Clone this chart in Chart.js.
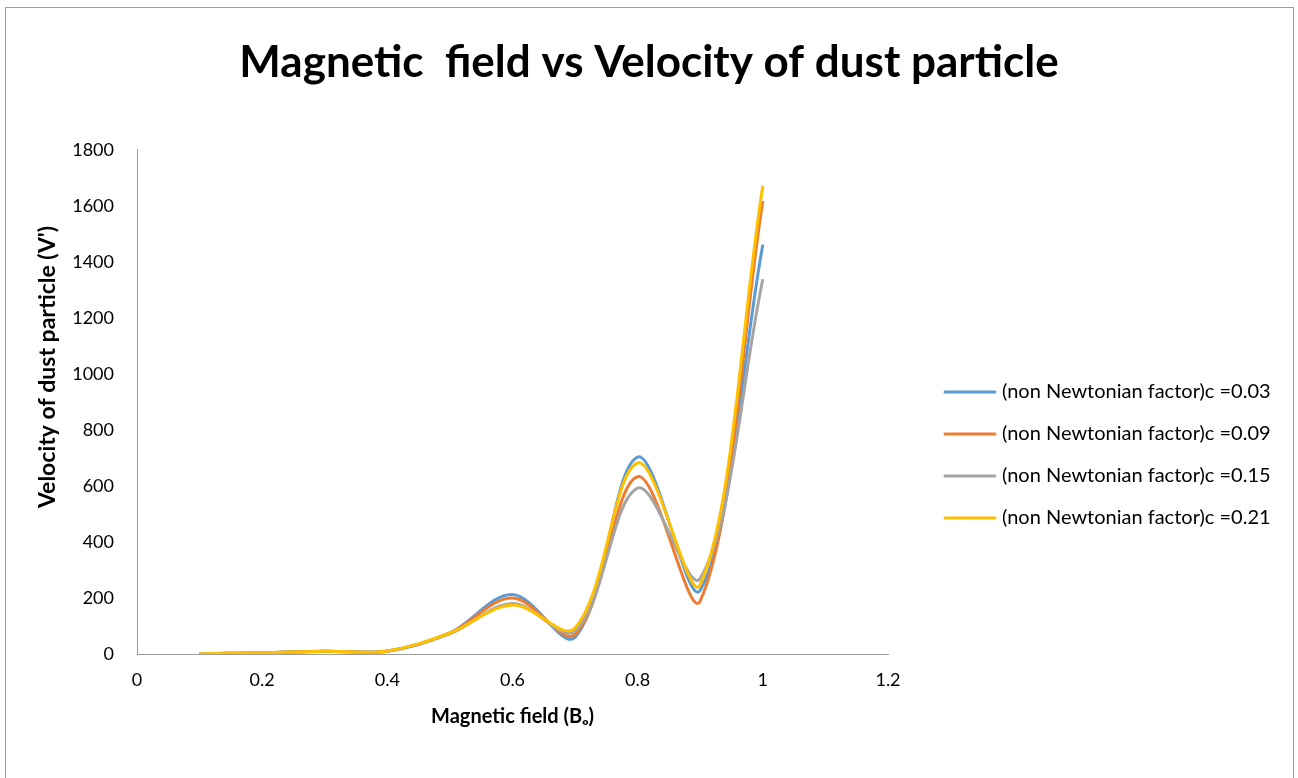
<!DOCTYPE html>
<html>
<head>
    <title>Magnetic field vs Velocity of dust particle</title>
    <script src="https://cdn.jsdelivr.net/npm/chart.js@4.4.0/dist/chart.umd.min.js"></script>
    <style>
        body { margin: 0; background: #fff; }
        .frame { position: absolute; left: 5px; top: 7px; width: 1287px; height: 800px; border: 1px solid #9e9e9e; }
        .chart-box { position: absolute; left: 0; top: 0; width: 1298px; height: 778px; }
    </style>
</head>
<body>
<div class="frame"></div>
<div class="chart-box"><canvas id="velocityChart"></canvas></div>

<script>
    // magnetic field values (x)
    const fieldValues = [0.1, 0.2, 0.3, 0.4, 0.5, 0.6, 0.7, 0.8, 0.9, 1.0];

    // velocity of dust particle for each non newtonian factor
    const velC003 = [1, 4, 10, 10, 75, 212, 60, 703, 228, 1462];
    const velC009 = [1, 4, 10, 10, 75, 200, 70, 633, 190, 1617];
    const velC015 = [1, 4, 10, 11, 72, 180, 82, 592, 270, 1338];
    const velC021 = [1, 4, 10, 11, 75, 175, 93, 682, 248, 1672];

    const seriesNames = [
        '(non Newtonian factor)c =0.03',
        '(non Newtonian factor)c =0.09',
        '(non Newtonian factor)c =0.15',
        '(non Newtonian factor)c =0.21'
    ];
    const chartTitle = 'Magnetic  field vs Velocity of dust particle';
    const xTitle = 'Magnetic field (B\u2092)';
    const yTitle = "Velocity of dust particle (V')";

    const fontName = 'Lato, "Open Sans", sans-serif';

    function toPoints(ys) {
        return fieldValues.map((x, i) => ({ x: x, y: ys[i] }));
    }

    // legend on the right + rotated y title
    const sideLegend = {
        id: 'sideLegend',
        afterDraw(chart) {
            const ctx = chart.ctx;
            ctx.save();
            ctx.font = '20px ' + fontName;
            ctx.textBaseline = 'middle';
            ctx.textAlign = 'left';
            chart.data.datasets.forEach((ds, i) => {
                const y = 392 + i * 42;
                ctx.strokeStyle = ds.borderColor;
                ctx.lineWidth = 3;
                ctx.lineCap = 'round';
                ctx.beginPath();
                ctx.moveTo(945, y);
                ctx.lineTo(995, y);
                ctx.stroke();
                ctx.fillStyle = '#000';
                ctx.fillText(ds.label, 1002, y);
            });
            ctx.translate(48, 367);
            ctx.rotate(-Math.PI / 2);
            ctx.textAlign = 'center';
            ctx.font = 'bold 23px ' + fontName;
            ctx.fillText(yTitle, 0, 0);
            ctx.restore();
        }
    };

    var ctx = document.getElementById('velocityChart').getContext('2d');
    var lineChart = new Chart(ctx, {
        type: 'scatter',
        data: {
            datasets: [
                { label: seriesNames[0], data: toPoints(velC003), borderColor: '#5B9BD5', order: 4 },
                { label: seriesNames[1], data: toPoints(velC009), borderColor: '#ED7D31', order: 3 },
                { label: seriesNames[2], data: toPoints(velC015), borderColor: '#A5A5A5', order: 2 },
                { label: seriesNames[3], data: toPoints(velC021), borderColor: '#FFC000', order: 1 }
            ].map(ds => Object.assign(ds, {
                showLine: true,
                tension: 0.35,
                borderWidth: 3,
                pointRadius: 0,
                backgroundColor: ds.borderColor,
                fill: false
            }))
        },
        options: {
            responsive: true,
            maintainAspectRatio: false,
            animation: false,
            layout: { padding: 0 },
            plugins: {
                legend: { display: false },
                tooltip: { enabled: false },
                title: {
                    display: true,
                    text: chartTitle,
                    color: '#000',
                    font: { family: fontName, size: 44, weight: 'bold' },
                    padding: { top: 36, bottom: 61 }
                }
            },
            scales: {
                x: {
                    type: 'linear',
                    min: 0,
                    max: 1.2,
                    ticks: {
                        stepSize: 0.2,
                        padding: 7,
                        color: '#000',
                        font: { family: fontName, size: 18 },
                        callback: v => String(Math.round(v * 10) / 10)
                    },
                    grid: { display: false },
                    border: { display: true, color: '#9a9a9a', width: 1 },
                    title: {
                        display: true,
                        text: xTitle,
                        color: '#000',
                        font: { family: fontName, size: 20, weight: 'bold' },
                        padding: { top: 0, bottom: 49 }
                    },
                    afterFit(scale) { scale.height = 124; }
                },
                y: {
                    min: 0,
                    max: 1800,
                    ticks: {
                        stepSize: 200,
                        padding: 15,
                        color: '#000',
                        font: { family: fontName, size: 18 },
                        callback: v => String(v)
                    },
                    grid: { display: false },
                    border: { display: true, color: '#9a9a9a', width: 1 },
                    afterFit(scale) { scale.width = 137; }
                },
                // empty space on the right where the legend sits
                legendSpace: {
                    position: 'right',
                    min: 0,
                    max: 1,
                    ticks: { display: false },
                    grid: { display: false },
                    border: { display: false },
                    afterFit(scale) { scale.width = 410; }
                }
            }
        },
        plugins: [sideLegend]
    });
</script>
</body>
</html>
